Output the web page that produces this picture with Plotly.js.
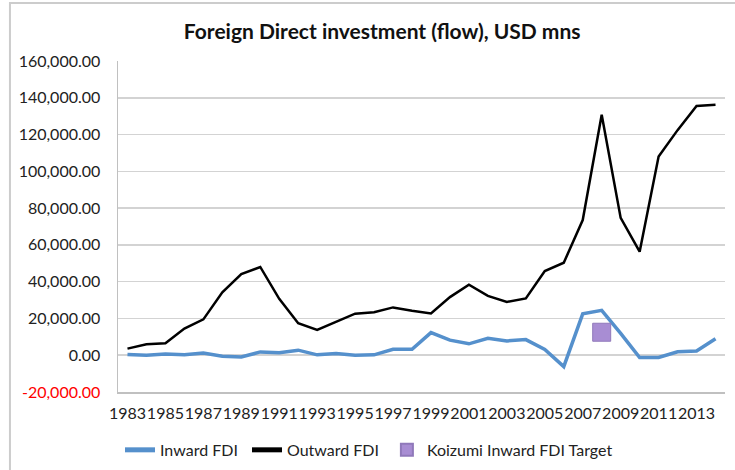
<!DOCTYPE html>
<html>
<head>
<meta charset="utf-8">
<script src="https://cdn.plot.ly/plotly-3.0.1.min.js"></script>
<style>html,body{margin:0;padding:0;background:#fff;}#chart{width:735px;height:470px;}</style>
</head>
<body>
<div id="chart"></div>
<script>
const years = [1983,1984,1985,1986,1987,1988,1989,1990,1991,1992,1993,1994,1995,1996,1997,1998,1999,2000,2001,2002,2003,2004,2005,2006,2007,2008,2009,2010,2011,2012,2013,2014];
const inwardFDI = [400,0,640,200,1200,-500,-1000,1800,1300,2750,200,900,40,200,3200,3270,12300,8200,6200,9200,7800,8500,3200,-6200,22500,24400,11900,-1250,-1250,1900,2300,9000];
const outwardFDI = [3600,6000,6500,14500,19500,34200,44100,48000,30700,17400,13800,18100,22600,23400,26000,24200,22700,31600,38300,32300,29000,30900,45800,50300,73500,130800,74700,56300,108000,122400,135500,136200];
const koizumiYears = [2008];
const koizumiTarget = [12500];
const yTickVals = [160000,140000,120000,100000,80000,60000,40000,20000,0,-20000];

const fmt = v => v.toLocaleString('en-US',{minimumFractionDigits:2,maximumFractionDigits:2});
const yTickText = yTickVals.map(v => v < 0 ? '<span style="color:#ff0000">' + fmt(v) + '</span>' : fmt(v));

const font = 'Lato, "Liberation Sans", sans-serif';

const traces = [
  {x: years, y: inwardFDI, type: 'scatter', mode: 'lines', name: 'Inward FDI', legend: 'legend',
   line: {color: '#5590CC', width: 3.5}},
  {x: years, y: outwardFDI, type: 'scatter', mode: 'lines', name: 'Outward FDI', legend: 'legend2',
   line: {color: '#000000', width: 2.5}},
  {x: koizumiYears, y: koizumiTarget, type: 'scatter', mode: 'markers', name: 'Koizumi Inward FDI Target', legend: 'legend3',
   marker: {symbol: 'square', size: 18, color: '#A88DD3', line: {color: '#9079BA', width: 1}}}
];

const legendBase = (x) => ({orientation: 'h', x: x, xanchor: 'left', y: -0.175, yanchor: 'middle',
  font: {family: font, size: 16, color: '#222222'}, itemsizing: 'constant', bgcolor: 'rgba(0,0,0,0)', borderwidth: 0});

const layout = {
  width: 735, height: 470,
  margin: {l: 118, r: 10, t: 61, b: 78, autoexpand: false},
  paper_bgcolor: '#ffffff', plot_bgcolor: '#ffffff',
  font: {family: font, size: 16, color: '#222222'},
  title: {text: '<b>Foreign Direct investment (flow), USD mns</b>', font: {family: font, size: 21, color: '#111111'},
          x: 0.52, xanchor: 'center', y: 0.932, yanchor: 'middle'},
  xaxis: {range: [1982.5, 2014.5], tickmode: 'linear', tick0: 1983, dtick: 2, tickangle: 0, automargin: false,
          showgrid: false, zeroline: false, showline: true, linecolor: '#c0c0c0', linewidth: 1.5,
          ticks: '', ticklabelstandoff: 6, tickfont: {family: font, size: 16, color: '#222222'}, fixedrange: true},
  yaxis: {range: [-20000, 160000], tickmode: 'array', tickvals: yTickVals, ticktext: yTickText, automargin: false,
          showgrid: true, gridcolor: '#d3d3d3', gridwidth: 1.5, zeroline: false,
          showline: true, linecolor: '#c0c0c0', linewidth: 1.5, ticks: '', ticklabelstandoff: 13,
          tickfont: {family: font, size: 16, color: '#222222'}, fixedrange: true},
  showlegend: true,
  legend: legendBase(0.0033),
  legend2: legendBase(0.2125),
  legend3: legendBase(0.443),
  shapes: [
    {type: 'rect', xref: 'paper', yref: 'paper', x0: -0.178, x1: 1.2, y0: -0.5, y1: 1.175,
     line: {color: '#cccccc', width: 2}, fillcolor: 'rgba(0,0,0,0)'}
  ]
};

Plotly.newPlot('chart', traces, layout, {displayModeBar: false, staticPlot: true});
</script>
</body>
</html>
